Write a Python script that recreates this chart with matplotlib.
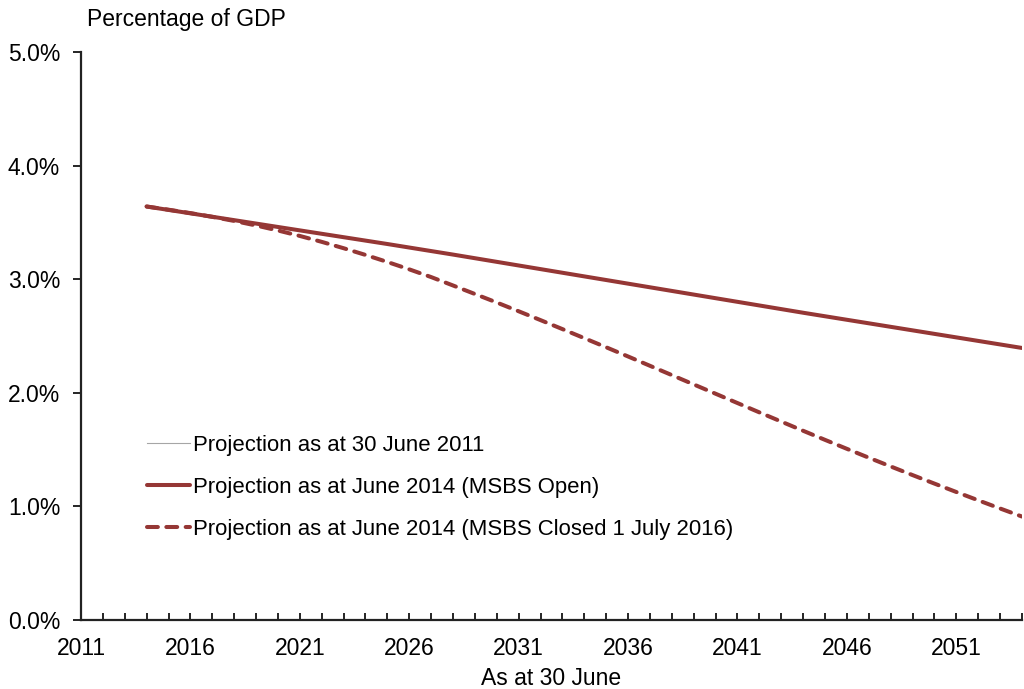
import matplotlib
matplotlib.use("Agg")
import matplotlib.pyplot as plt
from matplotlib.ticker import FixedLocator, FuncFormatter

plt.rcParams['font.family'] = ['Liberation Sans', 'DejaVu Sans']

years = list(range(2014, 2055))
open_vals = [3.640, 3.610, 3.580, 3.550, 3.520, 3.490, 3.460, 3.430, 3.400, 3.370,
             3.340, 3.310, 3.279, 3.248, 3.217, 3.185, 3.153, 3.121, 3.089, 3.057,
             3.025, 2.993, 2.961, 2.929, 2.897, 2.865, 2.833, 2.801, 2.769, 2.737,
             2.705, 2.674, 2.643, 2.612, 2.581, 2.550, 2.519, 2.488, 2.457, 2.426, 2.395]
closed_vals = [3.640, 3.612, 3.582, 3.549, 3.513, 3.473, 3.429, 3.381, 3.329, 3.273,
               3.214, 3.152, 3.087, 3.019, 2.945, 2.870, 2.795, 2.718, 2.640, 2.561,
               2.481, 2.401, 2.320, 2.238, 2.156, 2.074, 1.992, 1.910, 1.828, 1.747,
               1.666, 1.586, 1.507, 1.429, 1.352, 1.276, 1.201, 1.127, 1.054, 0.982, 0.911]
proj2011_years = []
proj2011_vals = []

labels = ["Projection as at 30 June 2011",
          "Projection as at June 2014 (MSBS Open)",
          "Projection as at June 2014 (MSBS Closed 1 July 2016)"]
xtick_labels = [2011, 2016, 2021, 2026, 2031, 2036, 2041, 2046, 2051]

color = "#953735"
fs = 16.5

fig = plt.figure(figsize=(10.24, 6.89), dpi=100)
ax = fig.add_axes([0.0791, 0.1001, 0.9189, 0.8244])

ax.plot(proj2011_years, proj2011_vals, color="#a6a6a6", lw=0.8, label=labels[0])
ax.plot(years, open_vals, color=color, lw=2.9, label=labels[1], solid_capstyle='round')
ax.plot(years, closed_vals, color=color, lw=2.9, label=labels[2],
        dashes=(2.7, 2.1), dash_capstyle='round')

ax.set_xlim(2011, 2054)
ax.set_ylim(0, 5.0)

ax.xaxis.set_major_locator(FixedLocator(list(range(2011, 2055))))
ax.xaxis.set_major_formatter(FuncFormatter(lambda v, p: str(int(round(v))) if int(round(v)) in xtick_labels else ""))
ax.tick_params(axis='x', direction='in', length=5, width=1.2, labelsize=fs, pad=12.5)
ax.set_yticks([0, 1, 2, 3, 4, 5])
ax.yaxis.set_major_formatter(FuncFormatter(lambda v, p: f"{v:.1f}%"))
ax.tick_params(axis='y', direction='out', length=6, width=1.2, labelsize=fs, pad=9)

for s in ['top', 'right']:
    ax.spines[s].set_visible(False)
for s in ['left', 'bottom']:
    ax.spines[s].set_linewidth(1.6)
    ax.spines[s].set_color('#222222')

ax.set_xlabel("As at 30 June", fontsize=fs, labelpad=5)
fig.text(0.085, 0.971, "Percentage of GDP", fontsize=fs, ha='left', va='center')

leg = ax.legend(loc='upper left', bbox_to_anchor=(0.070, 0.326), frameon=False,
                borderaxespad=0, borderpad=0,
                fontsize=15.9, handlelength=1.95, handletextpad=0.12, labelspacing=0.95)

fig.savefig("out.png", dpi=100)
